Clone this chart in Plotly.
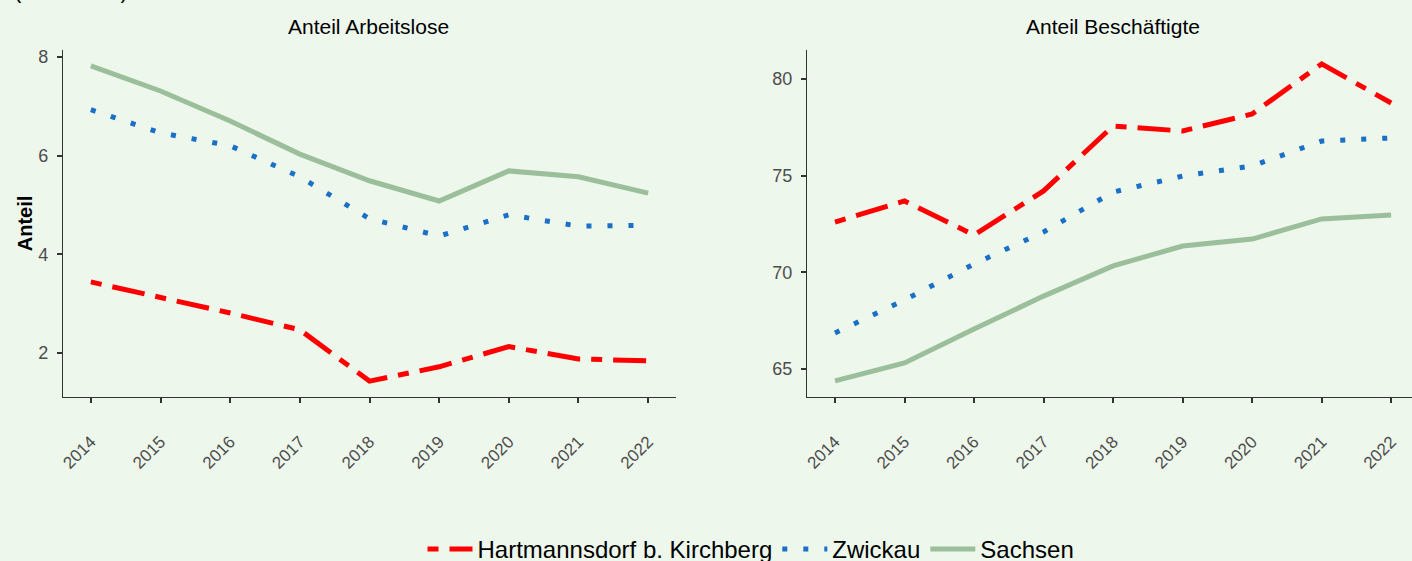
import plotly.graph_objects as go

years = [2014, 2015, 2016, 2017, 2018, 2019, 2020, 2021, 2022]
regions = ["Hartmannsdorf b. Kirchberg", "Zwickau", "Sachsen"]

# Anteil Arbeitslose
alo_hartmannsdorf = [3.44, 3.13, 2.81, 2.47, 1.43, 1.72, 2.13, 1.88, 1.84]
alo_zwickau = [6.93, 6.46, 6.20, 5.57, 4.72, 4.37, 4.80, 4.57, 4.59]
alo_sachsen = [7.82, 7.31, 6.70, 6.03, 5.49, 5.08, 5.69, 5.57, 5.24]

# Anteil Beschäftigte
bes_hartmannsdorf = [72.60, 73.69, 71.93, 74.21, 77.57, 77.31, 78.19, 80.78, 78.76]
bes_zwickau = [66.86, 68.57, 70.43, 72.09, 74.15, 74.98, 75.50, 76.79, 76.95]
bes_sachsen = [64.38, 65.31, 67.07, 68.77, 70.33, 71.36, 71.72, 72.76, 72.96]

colors = ["#ff0000", "#1a6fc6", "#9bbf9b"]
dashes = ["11px,11px,33px,11px", "5px,16px", "solid"]
bg = "#edf7ec"

fig = go.Figure()
left = [alo_hartmannsdorf, alo_zwickau, alo_sachsen]
right = [bes_hartmannsdorf, bes_zwickau, bes_sachsen]
for i, name in enumerate(regions):
    fig.add_trace(go.Scatter(x=years, y=left[i], mode="lines", name=name,
                             line=dict(color=colors[i], width=5, dash=dashes[i]),
                             xaxis="x", yaxis="y", legendgroup=name))
    fig.add_trace(go.Scatter(x=years, y=right[i], mode="lines", name=name,
                             line=dict(color=colors[i], width=5, dash=dashes[i]),
                             xaxis="x2", yaxis="y2", legendgroup=name, showlegend=False))

axis_style = dict(showline=True, linecolor="#333333", linewidth=1.2, ticks="outside",
                  ticklen=5, tickwidth=1.5, tickcolor="#333333", showgrid=False,
                  zeroline=False, automargin=False)
xfont = dict(family="Liberation Sans, Arial", size=17, color="#4d4d4d")
yfont = dict(family="Liberation Sans, Arial", size=18, color="#4d4d4d")

fig.update_layout(
    width=1412, height=561, autosize=False,
    paper_bgcolor=bg, plot_bgcolor=bg,
    margin=dict(l=0, r=0, t=0, b=0, autoexpand=False),
    font=dict(family="Liberation Sans, Arial", color="black"),
    xaxis=dict(domain=[63/1412, 676/1412], range=[2013.6, 2022.4], tickvals=years,
               tickangle=-45, ticklabelstandoff=22, anchor="y", tickfont=xfont, **axis_style),
    yaxis=dict(domain=[1 - 397/561, 1 - 50/561], range=[1.108, 8.14], tickvals=[2, 4, 6, 8],
               anchor="x", ticklabelstandoff=5, tickfont=yfont,
               title=dict(text="<b>Anteil</b>", font=dict(size=20), standoff=0), **axis_style),
    xaxis2=dict(domain=[807/1412, 1.0], range=[2013.597, 2022.3], tickvals=years,
                tickangle=-45, ticklabelstandoff=22, anchor="y2", tickfont=xfont, **axis_style),
    yaxis2=dict(domain=[1 - 397/561, 1 - 50/561], range=[63.55, 81.5], tickvals=[65, 70, 75, 80],
                anchor="x2", ticklabelstandoff=5, tickfont=yfont, **axis_style),
    legend=dict(orientation="h", x=751/1412, xanchor="center",
                y=1 - 527/561, yanchor="top", itemwidth=45,
                font=dict(size=24), bgcolor="rgba(0,0,0,0)"),
    annotations=[
        dict(text="Anteil Arbeitslose", x=369/1412, y=1 - 27/561, xref="paper", yref="paper",
             showarrow=False, font=dict(size=21), xanchor="center", yanchor="middle"),
        dict(text="Anteil Beschäftigte", x=1113/1412, y=1 - 27/561, xref="paper", yref="paper",
             showarrow=False, font=dict(size=21), xanchor="center", yanchor="middle"),
        dict(text="(in Prozent)", x=12/1412, y=1 + 10/561, xref="paper", yref="paper",
             showarrow=False, font=dict(size=22), xanchor="left", yanchor="middle"),
    ],
)

fig.write_html("out.html", config={"displayModeBar": False},
               post_script="document.body.style.margin='0';document.body.style.overflow='hidden';document.body.style.background='%s';" % bg)
